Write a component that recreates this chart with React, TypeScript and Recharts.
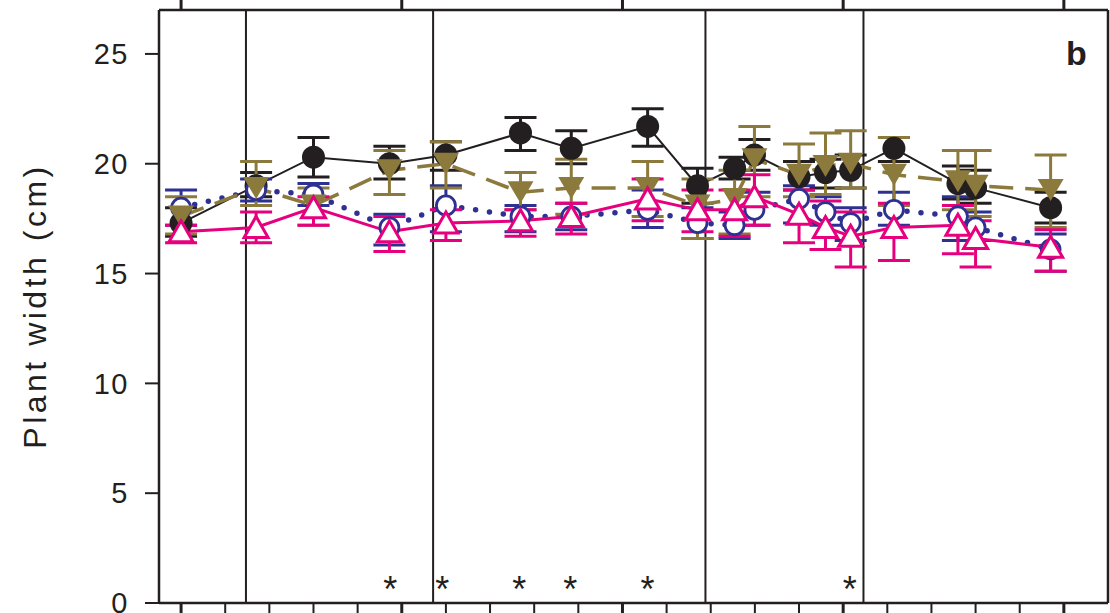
import React from 'react';
import { ComposedChart, Line, Scatter, XAxis, YAxis, ErrorBar, ReferenceLine, Label } from 'recharts';

const ink = '#231f20';
const gold = '#8c7a3c';
const navy = '#2e3192';
const pink = '#e6007e';
const font = '"Liberation Sans", Arial, sans-serif';

// sampling positions (axis units, ticks every 1)
const xPos = [0, 1.7, 3.0, 4.72, 6.0, 7.69, 8.84, 10.57, 11.7, 12.54, 12.99, 14.0, 14.6, 15.17, 16.15, 17.6, 18.0, 19.7];

const blackMean = [17.3, 19.0, 20.3, 20.0, 20.4, 21.4, 20.7, 21.7, 19.0, 19.8, 20.4, 19.4, 19.6, 19.7, 20.7, 19.1, 18.9, 18.0];
const blackLow = [16.7, 18.5, 19.4, 19.3, 19.7, 20.6, 20.0, 20.8, 18.2, 19.3, 19.7, 18.8, 18.9, 18.9, 20.1, 18.4, 18.2, 17.3];
const blackHigh = [18.0, 19.6, 21.2, 20.8, 21.0, 22.1, 21.5, 22.5, 19.8, 20.3, 21.1, 20.1, 20.2, 20.4, 21.2, 19.9, 19.7, 18.7];

const goldMean = [17.6, 18.9, 18.1, 19.7, 20.0, 18.7, 18.9, 18.9, 18.1, 18.4, 20.2, 19.5, 19.9, 20.0, 19.5, 19.2, 19.0, 18.8];
const goldLow = [16.8, 18.1, 17.2, 18.6, 18.9, 17.9, 17.7, 17.6, 16.6, 16.8, 18.5, 18.5, 18.6, 18.9, 18.1, 17.9, 17.6, 17.1];
const goldHigh = [18.5, 20.1, 18.9, 20.6, 21.0, 19.6, 20.2, 20.1, 19.3, 19.7, 21.7, 20.9, 21.4, 21.5, 21.2, 20.6, 20.6, 20.4];

const blueMean = [18.0, 18.8, 18.6, 17.1, 18.1, 17.6, 17.6, 17.9, 17.3, 17.2, 17.9, 18.4, 17.8, 17.3, 17.9, 17.6, 17.1, 16.1];
const blueLow = [17.2, 18.3, 18.1, 16.3, 16.9, 16.9, 17.0, 17.1, 16.6, 16.6, 17.2, 17.3, 17.2, 16.5, 17.2, 16.5, 16.5, 15.1];
const blueHigh = [18.8, 19.3, 19.1, 17.7, 19.0, 18.1, 18.2, 18.8, 18.0, 17.8, 18.7, 19.0, 18.5, 18.0, 18.7, 18.5, 17.8, 16.8];

const pinkMean = [16.9, 17.1, 18.0, 16.9, 17.3, 17.4, 17.6, 18.4, 17.9, 17.9, 18.5, 17.7, 17.1, 16.7, 17.1, 17.2, 16.6, 16.2];
const pinkLow = [16.4, 16.4, 17.2, 16.0, 16.5, 16.7, 16.8, 17.4, 16.9, 16.7, 17.2, 16.4, 16.1, 15.3, 15.6, 15.9, 15.3, 15.1];
const pinkHigh = [17.2, 17.8, 18.5, 17.6, 17.9, 17.9, 18.2, 19.3, 18.8, 18.8, 19.5, 18.8, 18.3, 17.8, 18.2, 18.1, 17.4, 17.0];

const starX = [4.74, 5.92, 7.66, 8.82, 10.57, 15.15];
const dividers = [1.47, 5.71, 11.88, 15.46];
const bottomTicks = Array.from({ length: 21 }, (_, i) => i);
const topTicks = [0, 5, 10, 15, 20];
const yTicks = [0, 5, 10, 15, 20, 25];

const err = (m: number[], lo: number[], hi: number[], i: number) => [
  +(m[i] - lo[i]).toFixed(2),
  +(hi[i] - m[i]).toFixed(2),
];

const data = xPos.map((x, i) => ({
  x,
  black: blackMean[i],
  blackErr: err(blackMean, blackLow, blackHigh, i),
  gold: goldMean[i],
  goldErr: err(goldMean, goldLow, goldHigh, i),
  blue: blueMean[i],
  blueErr: err(blueMean, blueLow, blueHigh, i),
  pink: pinkMean[i],
  pinkErr: err(pinkMean, pinkLow, pinkHigh, i),
}));

const stars = starX.map((x) => ({ x, y: 1.0 }));

const blackDot = (p: any) => <circle key={p.key} cx={p.cx} cy={p.cy} r={11.5} fill={ink} />;
const blueDot = (p: any) => (
  <circle key={p.key} cx={p.cx} cy={p.cy} r={9.5} fill="#fff" stroke={navy} strokeWidth={2.8} />
);
const goldDot = (p: any) => (
  <path
    key={p.key}
    d={`M${p.cx - 13},${p.cy - 11}L${p.cx + 13},${p.cy - 11}L${p.cx},${p.cy + 11}Z`}
    fill={gold}
  />
);
const pinkDot = (p: any) => (
  <path
    key={p.key}
    d={`M${p.cx - 12},${p.cy + 10}L${p.cx + 12},${p.cy + 10}L${p.cx},${p.cy - 11}Z`}
    fill="#fff"
    stroke={pink}
    strokeWidth={3}
    strokeLinejoin="miter"
  />
);

const starShape = (p: any) => (
  <text x={p.cx} y={p.cy + 21} textAnchor="middle" fontSize={36} fontFamily={font} fill={ink}>
    *
  </text>
);

const BottomTick = (p: any) => {
  const major = p.payload.value % 5 === 0;
  return <line x1={p.x} x2={p.x} y1={p.y} y2={p.y + 12} stroke={ink} strokeWidth={major ? 3 : 2} />;
};

const TopTick = (p: any) => <line x1={p.x} x2={p.x} y1={p.y} y2={p.y - 10} stroke={ink} strokeWidth={3} />;

const YTitle = () => (
  <text
    x={35}
    y={306}
    transform="rotate(-90 35 306)"
    textAnchor="middle"
    dominantBaseline="central"
    fontSize={32}
    letterSpacing={3.5}
    fontFamily={font}
    fill={ink}
  >
    Plant width (cm)
  </text>
);

export default function App() {
  return (
    <div style={{ position: 'absolute', left: 0, top: 0, width: 1110, height: 613, background: '#fff' }}>
      <ComposedChart width={1110} height={613} data={data} margin={{ top: 0, right: 0, bottom: 0, left: 0 }}>
        <XAxis
          dataKey="x"
          type="number"
          domain={[-0.5, 21]}
          allowDataOverflow
          ticks={bottomTicks}
          interval={0}
          height={10}
          tickSize={0}
          tickMargin={0}
          tickLine={false}
          tick={BottomTick}
          axisLine={{ stroke: ink, strokeWidth: 2.5 }}
        />
        <XAxis
          xAxisId="top"
          orientation="top"
          dataKey="x"
          type="number"
          domain={[-0.5, 21]}
          allowDataOverflow
          ticks={topTicks}
          interval={0}
          height={10}
          tickSize={0}
          tickMargin={0}
          tickLine={false}
          tick={TopTick}
          axisLine={{ stroke: ink, strokeWidth: 2.5 }}
        />
        <YAxis
          type="number"
          domain={[0, 27]}
          allowDataOverflow
          ticks={yTicks}
          interval={0}
          width={159}
          tickSize={14}
          tickMargin={16}
          tickLine={{ stroke: ink, strokeWidth: 2 }}
          axisLine={{ stroke: ink, strokeWidth: 2.5 }}
          tick={{ fontSize: 29, fill: ink, fontFamily: font, letterSpacing: 1.5 }}
        >
          <Label content={YTitle} />
        </YAxis>
        <YAxis
          yAxisId="right"
          orientation="right"
          type="number"
          domain={[0, 27]}
          allowDataOverflow
          width={2}
          tick={false}
          tickLine={false}
          axisLine={{ stroke: ink, strokeWidth: 2.5 }}
        />
        {dividers.map((d) => (
          <ReferenceLine key={d} x={d} stroke={ink} strokeWidth={2} />
        ))}
        <Line
          dataKey="black"
          type="linear"
          stroke={ink}
          strokeWidth={2}
          dot={blackDot}
          activeDot={false}
          isAnimationActive={false}
        >
          <ErrorBar dataKey="blackErr" direction="y" width={16} stroke={ink} strokeWidth={3} />
        </Line>
        <Line
          dataKey="blue"
          type="linear"
          stroke={navy}
          strokeWidth={5.5}
          strokeDasharray="0 14"
          strokeLinecap="round"
          dot={blueDot}
          activeDot={false}
          isAnimationActive={false}
        >
          <ErrorBar dataKey="blueErr" direction="y" width={16} stroke={navy} strokeWidth={3} />
        </Line>
        <Line
          dataKey="gold"
          type="linear"
          stroke={gold}
          strokeWidth={3.5}
          strokeDasharray="24 12"
          dot={goldDot}
          activeDot={false}
          isAnimationActive={false}
        >
          <ErrorBar dataKey="goldErr" direction="y" width={16} stroke={gold} strokeWidth={3} />
        </Line>
        <Line
          dataKey="pink"
          type="linear"
          stroke={pink}
          strokeWidth={3}
          dot={pinkDot}
          activeDot={false}
          isAnimationActive={false}
        >
          <ErrorBar dataKey="pinkErr" direction="y" width={16} stroke={pink} strokeWidth={3} />
        </Line>
        <Scatter data={stars} dataKey="y" shape={starShape} isAnimationActive={false} />
      </ComposedChart>
      <div
        style={{
          position: 'absolute',
          left: 1066,
          top: 33,
          fontFamily: font,
          fontWeight: 'bold',
          fontSize: 34,
          lineHeight: '40px',
          color: ink,
        }}
      >
        b
      </div>
    </div>
  );
}
